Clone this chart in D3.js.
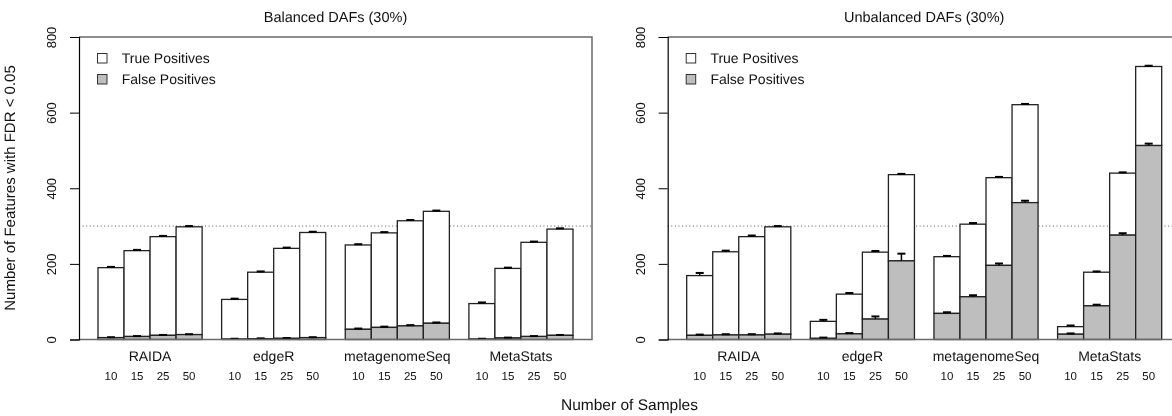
<!DOCTYPE html>
<html>
<head>
<meta charset="utf-8">
<script src="https://cdn.jsdelivr.net/npm/d3@7"></script>
<style>
  html, body { margin: 0; padding: 0; background: #fff; }
  svg { display: block; font-family: "Liberation Sans", Arial, Helvetica, sans-serif; will-change: transform; }
  svg text { text-rendering: geometricPrecision; }
</style>
</head>
<body>
<svg id="chart" width="1172" height="416"></svg>
<script>
// Methods compared and the sample sizes within each method
const methods = ["RAIDA", "edgeR", "metagenomeSeq", "MetaStats"];
const sampleSizes = [10, 15, 25, 50];

// Balanced DAFs (30%): true / false positives, and standard errors
const balancedTP = [
  [185, 227, 261, 285],
  [105, 176, 238, 278],
  [223, 250, 278, 296],
  [94, 184, 249, 281]
];
const balancedFP = [
  [5, 8, 11, 13],
  [1, 2, 3, 5],
  [27, 32, 36, 43],
  [1, 4, 8, 11]
];
const balancedTotalErr = [
  [2, 2, 2, 2],
  [2, 2, 2, 2],
  [2, 2, 2, 2],
  [3, 2, 2, 2]
];
const balancedFPErr = [
  [1, 1, 1, 1],
  [1, 1, 1, 1],
  [2, 2, 2, 2],
  [1, 1, 1, 1]
];

// Unbalanced DAFs (30%)
const unbalancedTP = [
  [158, 220, 260, 284],
  [45, 105, 177, 228],
  [150, 192, 232, 259],
  [20, 89, 164, 209]
];
const unbalancedFP = [
  [11, 12, 12, 14],
  [3, 15, 54, 208],
  [69, 113, 196, 362],
  [14, 89, 276, 513]
];
const unbalancedTotalErr = [
  [7, 3, 3, 2],
  [4, 3, 3, 2],
  [2, 3, 2, 2],
  [3, 2, 2, 2]
];
const unbalancedFPErr = [
  [2, 2, 2, 2],
  [2, 2, 7, 19],
  [3, 4, 5, 5],
  [2, 3, 5, 5]
];

const yTicks = [0, 200, 400, 600, 800];
const referenceLine = 300;
const legendLabels = ["True Positives", "False Positives"];

const panels = [
  { title: "Balanced DAFs (30%)", tp: balancedTP, fp: balancedFP, totErr: balancedTotalErr, fpErr: balancedFPErr, left: 79 },
  { title: "Unbalanced DAFs (30%)", tp: unbalancedTP, fp: unbalancedFP, totErr: unbalancedTotalErr, fpErr: unbalancedFPErr, left: 667.7 }
];

const svg = d3.select("#chart");
const plotW = 513;
const plotTop = 37, plotBottom = 339.5;
const fpColor = "#bebebe";
const edge = "#222";

const y = d3.scaleLinear().domain([0, 800]).range([plotBottom, plotTop]);

// group band: 4 bars wide, gap of 0.75 bar between groups, 4% padding at each end
const barUnits = sampleSizes.length;
const gapUnits = 0.75;
const stepUnits = barUnits + gapUnits;
const spanUnits = methods.length * barUnits + (methods.length - 1) * gapUnits;
const padUnits = 0.04 * spanUnits;

panels.forEach(p => {
  const g = svg.append("g");
  const x0 = d3.scaleBand()
    .domain(methods)
    .range([p.left, p.left + plotW])
    .paddingInner(gapUnits / stepUnits)
    .paddingOuter(padUnits / stepUnits);
  const x1 = d3.scaleBand().domain(sampleSizes).range([0, x0.bandwidth()]);

  // title
  g.append("text")
    .attr("x", p.left + plotW / 2).attr("y", 22)
    .attr("text-anchor", "middle").attr("font-size", 14.5).attr("fill", "#111")
    .text(p.title);

  // reference line
  g.append("line")
    .attr("x1", p.left).attr("x2", p.left + plotW)
    .attr("y1", y(referenceLine)).attr("y2", y(referenceLine))
    .attr("stroke", "#555").attr("stroke-width", 1).attr("stroke-dasharray", "1,2.6");

  // bars
  methods.forEach((m, mi) => {
    sampleSizes.forEach((s, si) => {
      const fp = p.fp[mi][si];
      const total = fp + p.tp[mi][si];
      const bx = x0(m) + x1(s);
      const bw = x1.bandwidth();
      g.append("rect")
        .attr("x", bx).attr("y", y(total))
        .attr("width", bw).attr("height", y(fp) - y(total))
        .attr("fill", "#fff").attr("stroke", edge).attr("stroke-width", 1.3);
      g.append("rect")
        .attr("x", bx).attr("y", y(fp))
        .attr("width", bw).attr("height", y(0) - y(fp))
        .attr("fill", fpColor).attr("stroke", edge).attr("stroke-width", 1.3);
    });
  });

  // error bars (upper standard error)
  methods.forEach((m, mi) => {
    sampleSizes.forEach((s, si) => {
      const fp = p.fp[mi][si];
      const total = fp + p.tp[mi][si];
      const cx = x0(m) + x1(s) + x1.bandwidth() / 2;
      [[total, p.totErr[mi][si]], [fp, p.fpErr[mi][si]]].forEach(([v, e]) => {
        g.append("line")
          .attr("x1", cx).attr("x2", cx).attr("y1", y(v)).attr("y2", y(v + e))
          .attr("stroke", "#000").attr("stroke-width", 1.5);
        g.append("line")
          .attr("x1", cx - 4).attr("x2", cx + 4).attr("y1", y(v + e)).attr("y2", y(v + e))
          .attr("stroke", "#000").attr("stroke-width", 2);
      });
    });
  });

  // box (top, right, bottom)
  g.append("path")
    .attr("d", `M${p.left},${plotTop}H${p.left + plotW}V${plotBottom}H${p.left}`)
    .attr("fill", "none").attr("stroke", "#6a6a6a").attr("stroke-width", 1.5);

  // y axis
  const ax = g.append("g").attr("transform", `translate(${p.left},0)`)
    .call(d3.axisLeft(y).tickValues(yTicks).tickSize(9).tickFormat(d3.format("d")));
  ax.select(".domain").attr("stroke", "#000").attr("stroke-width", 1.2);
  ax.selectAll(".tick line").attr("stroke", "#000").attr("stroke-width", 1);
  ax.selectAll(".tick text")
    .attr("font-size", 13).attr("fill", "#111")
    .attr("font-family", "Liberation Sans, Arial, sans-serif")
    .attr("text-anchor", "middle").attr("dy", null).attr("x", null)
    .attr("transform", "translate(-23,0) rotate(-90)");

  // group and sample-size labels
  methods.forEach(m => {
    g.append("text")
      .attr("x", x0(m) + x0.bandwidth() / 2).attr("y", 361)
      .attr("text-anchor", "middle").attr("font-size", 14).attr("fill", "#111")
      .text(m);
    sampleSizes.forEach(s => {
      g.append("text")
        .attr("x", x0(m) + x1(s) + x1.bandwidth() / 2).attr("y", 379.5)
        .attr("text-anchor", "middle").attr("font-size", 11.5).attr("fill", "#111")
        .text(s);
    });
  });

  // legend
  legendLabels.forEach((lab, i) => {
    const ly = 53.5 + i * 21;
    g.append("rect")
      .attr("x", p.left + 18.5).attr("y", ly).attr("width", 9.5).attr("height", 9.5)
      .attr("fill", i === 0 ? "#fff" : fpColor).attr("stroke", "#333").attr("stroke-width", 1);
    g.append("text")
      .attr("x", p.left + 42.7).attr("y", ly + 9.2)
      .attr("font-size", 14).attr("fill", "#111")
      .text(lab);
  });
});

// shared axis titles
svg.append("text")
  .attr("transform", "translate(15,188) rotate(-90)")
  .attr("text-anchor", "middle").attr("font-size", 15).attr("fill", "#111")
  .text("Number of Features with FDR < 0.05");
svg.append("text")
  .attr("x", 629.5).attr("y", 410)
  .attr("text-anchor", "middle").attr("font-size", 15.5).attr("fill", "#111")
  .text("Number of Samples");
</script>
</body>
</html>
